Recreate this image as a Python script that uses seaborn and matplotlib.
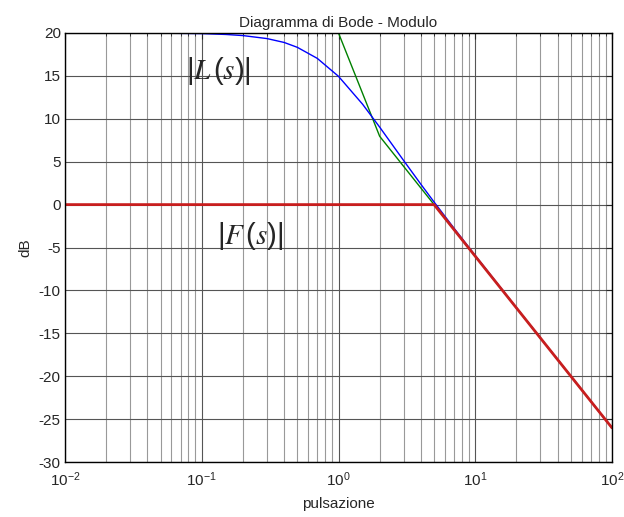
import numpy as np
import pandas as pd
import matplotlib
matplotlib.use("Agg")
import matplotlib.pyplot as plt
import seaborn as sns
from matplotlib.ticker import LogLocator, MultipleLocator

# |L(jw)| (dB)
w_L = [0.01, 0.05, 0.1, 0.15, 0.2, 0.3, 0.4, 0.5, 0.7, 1.0, 1.5, 2.0, 3.0, 4.0, 5.0, 7.0, 10.0, 20.0, 50.0, 100.0]
mag_L = [20.0, 19.98, 19.93, 19.83, 19.70, 19.35, 18.90, 18.33, 17.04, 14.95, 11.70, 9.03, 5.12, 2.38, 0.30, -2.76, -5.93, -12.02, -19.99, -26.02]

# asymptotic diagram of L
w_asy = [0.01, 1.0, 2.0, 100.0]
mag_asy = [20.0, 20.0, 7.96, -26.02]

# |F(jw)| asymptotic
w_F = [0.01, 5.0, 100.0]
mag_F = [0.0, 0.0, -26.02]

sns.set_style("white")
plt.rcParams['font.family'] = ['Liberation Sans', 'DejaVu Sans']
plt.rcParams['mathtext.default'] = 'regular'
plt.rcParams['axes.unicode_minus'] = False

fig = plt.figure(figsize=(6.24, 5.17), dpi=100)
ax = fig.add_axes([65 / 624, 1 - 462 / 517, (612 - 65) / 624, (462 - 33) / 517])

ax.set_xscale('log')
ax.set_xlim(0.01, 100)
ax.set_ylim(-30, 20)

# grid like MATLAB
ax.xaxis.set_major_locator(LogLocator(base=10, numticks=10))
ax.xaxis.set_minor_locator(LogLocator(base=10, subs=np.arange(2, 10), numticks=100))
ax.yaxis.set_major_locator(MultipleLocator(5))
ax.grid(True, which='major', color='#555555', lw=0.8)
ax.grid(True, which='minor', axis='x', color='#999999', lw=0.8)
ax.set_axisbelow(True)

sns.lineplot(x=w_asy, y=mag_asy, ax=ax, color='#008000', lw=1.0)
sns.lineplot(x=w_L, y=mag_L, ax=ax, color='#0000ff', lw=1.0)
sns.lineplot(x=w_F, y=mag_F, ax=ax, color='#c81e1e', lw=2.0)

for s in ax.spines.values():
    s.set_color('black')
    s.set_linewidth(1.0)

ax.tick_params(which='both', direction='in', top=True, right=True, labelsize=11)
ax.tick_params(axis='x', pad=6)
ax.tick_params(axis='y', pad=3)
ax.tick_params(which='major', length=4)
ax.tick_params(which='minor', length=2)

ax.set_title('Diagramma di Bode - Modulo', fontsize=11, pad=4)
ax.set_xlabel('pulsazione', fontsize=11, labelpad=6)
ax.set_ylabel('dB', fontsize=11, labelpad=5)

# labels placed in pixel coordinates (from top of figure)
H = 517
ax.text(218, H - 71, r'$|\mathit{L}\,(\mathit{s})|$', transform=None, fontsize=21,
        ha='center', va='center', math_fontfamily='stix')
ax.text(250, H - 236, r'$|\mathit{F}\,(\mathit{s})|$', transform=None, fontsize=21,
        ha='center', va='center', math_fontfamily='stix')

fig.savefig('out.png', dpi=100)
